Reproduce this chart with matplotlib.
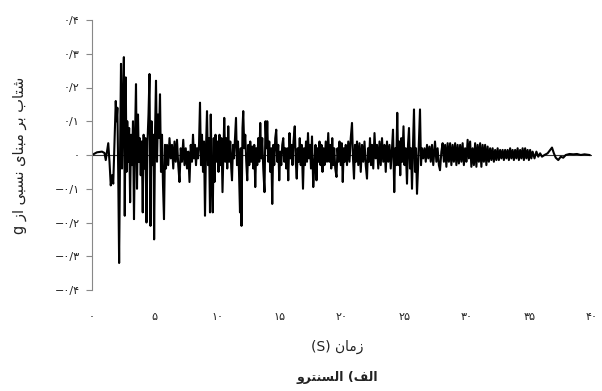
import matplotlib
matplotlib.use('Agg')
from matplotlib import pyplot as plt

# زمان و شتاب نقاط اوج، خوانده شده از نمودار
time_s = [
    0, 0.4, 0.8, 1.0, 1.1, 1.2, 1.3,
    1.4, 1.5, 1.6, 1.7, 1.8, 1.9, 1.97, 2.03, 2.1, 2.17, 2.25, 2.32, 2.4, 2.47,
    2.55, 2.62, 2.7, 2.76, 2.82, 2.9, 2.97, 3.05, 3.12, 3.2, 3.28, 3.36, 3.43,
    3.52, 3.6, 3.68, 3.75, 3.82, 3.9, 3.98, 4.06, 4.13, 4.2, 4.28, 4.36, 4.44,
    4.52, 4.6, 4.68, 4.76, 4.84, 4.92, 4.97, 5.05, 5.12, 5.2, 5.28, 5.36, 5.44,
    5.52, 5.6, 5.68, 5.76, 5.84, 5.92,
    6.0, 6.1, 6.2, 6.3, 6.4, 6.5, 6.6, 6.7, 6.8, 6.9, 7.0, 7.1, 7.2, 7.3, 7.4,
    7.5, 7.6, 7.7, 7.8, 7.9, 8.0, 8.08, 8.16, 8.24, 8.32, 8.4, 8.48,
    8.56, 8.64, 8.72, 8.8, 8.88, 8.96, 9.04, 9.12, 9.2, 9.28, 9.36, 9.44, 9.5,
    9.58, 9.66, 9.74, 9.8, 9.88, 9.96, 10.04, 10.12, 10.2, 10.28, 10.36, 10.44,
    10.52, 10.58, 10.66, 10.74, 10.82, 10.9, 10.98, 11.06, 11.14, 11.2, 11.28,
    11.36, 11.44, 11.52, 11.6, 11.68, 11.76, 11.84, 11.9, 11.96, 12.04, 12.1,
    12.18, 12.26,
    12.34, 12.42, 12.5, 12.58, 12.66, 12.74, 12.82, 12.9, 12.98, 13.06, 13.14,
    13.22, 13.3, 13.38, 13.46, 13.54, 13.62, 13.7, 13.8, 13.88, 13.96, 14.02,
    14.1, 14.18, 14.26, 14.34, 14.42, 14.5, 14.58, 14.66, 14.74, 14.82, 14.9,
    14.98, 15.06, 15.14, 15.22, 15.3, 15.38, 15.46, 15.54, 15.62, 15.7, 15.8,
    15.88, 15.96, 16.04, 16.12, 16.22, 16.3, 16.38, 16.46, 16.54, 16.62, 16.7,
    16.78, 16.88, 16.96, 17.04, 17.12, 17.2, 17.28, 17.36, 17.44, 17.52, 17.6,
    17.7, 17.8, 17.88, 17.96, 18.04, 18.12, 18.2, 18.28, 18.36, 18.44, 18.52,
    18.6, 18.7, 18.8, 18.9, 18.98, 19.06, 19.14, 19.22, 19.3, 19.38, 19.46,
    19.56, 19.64, 19.72, 19.8, 19.9, 19.98, 20.06, 20.14, 20.22, 20.3, 20.4,
    20.5, 20.6, 20.7, 20.8, 20.88, 20.96, 21.04, 21.12, 21.2, 21.3, 21.4, 21.5,
    21.6, 21.7, 21.8, 21.9, 22.0, 22.08, 22.16, 22.24, 22.32, 22.4, 22.5, 22.6,
    22.7, 22.8, 22.9, 23.0, 23.1, 23.2, 23.3, 23.4, 23.5, 23.6, 23.7, 23.8,
    23.9, 24.0, 24.08, 24.18, 24.26, 24.34, 24.42, 24.5, 24.58, 24.66, 24.74,
    24.82, 24.92, 25.0, 25.1, 25.2, 25.28, 25.36, 25.44, 25.52, 25.6, 25.68,
    25.76, 25.84, 25.92, 26.0, 26.08, 26.16, 26.24, 26.32, 26.4, 26.5,
    26.6, 26.7, 26.8, 26.9, 27.0, 27.1, 27.2, 27.3, 27.44, 27.55, 27.65, 27.75,
    27.84, 27.95, 28.05, 28.15, 28.25, 28.35, 28.45, 28.55, 28.65, 28.75, 28.85,
    28.95, 29.05, 29.15, 29.25, 29.35, 29.45, 29.55, 29.65, 29.75, 29.85, 29.95,
    30.05, 30.15, 30.25, 30.35, 30.45,
    30.55, 30.65, 30.75, 30.85, 30.95, 31.05, 31.15, 31.25, 31.35, 31.45, 31.55,
    31.65, 31.75, 31.85, 31.95, 32.05, 32.15, 32.25, 32.35, 32.45, 32.55, 32.65,
    32.75, 32.85, 32.95, 33.05, 33.15, 33.25, 33.35, 33.45, 33.55, 33.65, 33.75,
    33.85, 33.95, 34.05, 34.15, 34.25, 34.35, 34.45, 34.55, 34.65, 34.75, 34.85,
    34.95, 35.05, 35.15, 35.25, 35.4, 35.55, 35.7, 35.85, 36.0, 36.2, 36.45,
    36.65, 36.8, 36.95, 37.1, 37.3, 37.5, 37.7, 37.9, 38.2, 38.5, 38.8, 39.1,
    39.4, 39.8,
]

accel_g = [
    0, 0.008, 0.01, 0.006, -0.015, 0.01, 0.035,
    -0.02, -0.09, -0.06, -0.085, 0.04, 0.16, 0.10, 0.14, -0.06, -0.32, 0.02, 0.27, -0.04, 0.15,
    0.29, -0.18, 0.23, -0.05, 0.10, -0.02, 0.08, -0.14, 0.06, -0.03, 0.10, -0.19, 0.03,
    0.21, -0.10, 0.12, -0.02, 0.05, -0.06, 0.04, -0.17, 0.06, -0.04, 0.05, -0.20, 0.04,
    0.12, 0.24, -0.21, 0.10, -0.03, 0.06, -0.25, 0.08, 0.22, -0.02, 0.12, 0.05, 0.18,
    -0.05, 0.06, -0.09, -0.19, 0.03, -0.04,
    0.03, -0.03, 0.05, -0.01, 0.03, -0.04, 0.04, -0.02, 0.045, -0.03, -0.08, 0.02, -0.02, 0.045, -0.03,
    0.02, -0.04, 0.01, -0.08, 0.03, -0.02, 0.06, -0.01, 0.03, -0.03, 0.02, -0.01,
    0.03, 0.155, -0.03, 0.06, -0.05, 0.04, -0.18, 0.02, 0.13, -0.03, 0.05, -0.17, 0.12,
    -0.06, -0.17, 0.05, -0.08, 0.06, -0.02, 0.04, -0.05, 0.06, -0.03, 0.05, -0.11,
    0.02, 0.11, -0.02, 0.05, -0.04, 0.085, -0.02, 0.04, -0.04, -0.075, 0.03,
    -0.01, 0.05, 0.11, -0.03, 0.04, -0.05, -0.17, 0.02, -0.21, 0.08, 0.13,
    0.02, 0.06,
    -0.02, -0.075, 0.03, -0.03, 0.04, -0.02, 0.025, -0.04, 0.03, -0.095, 0.02,
    -0.03, 0.05, -0.02, 0.095, -0.01, 0.05, -0.04, -0.11, 0.10, 0.02, 0.10,
    -0.02, 0.04, -0.05, 0.02, -0.145, 0.03, -0.03, 0.05, 0.075, -0.02, 0.03,
    -0.075, 0.01, -0.03, 0.03, 0.05, -0.02, 0.02, -0.04, 0.02, -0.075, 0.065,
    -0.01, 0.03, -0.03, 0.04, 0.085, -0.02, -0.07, 0.02, -0.02, 0.05, -0.03,
    0.03, -0.10, 0.02, -0.03, 0.04, -0.02, 0.065, -0.01, 0.03, -0.04, 0.055,
    -0.095, -0.02, 0.03, -0.075, 0.02, -0.02, 0.04, -0.03, 0.03, -0.05, 0.02,
    -0.03, 0.04, -0.02, 0.065, -0.02, 0.03, -0.04, 0.05, -0.03, 0.02, -0.04,
    -0.065, 0.02, -0.02, 0.04, -0.03, 0.035, -0.08, 0.02, -0.02, 0.03, -0.03,
    0.04, -0.02, 0.05, 0.095, -0.01, -0.07, 0.03, -0.02, 0.04, -0.03, 0.035, -0.05,
    0.03, -0.02, 0.04, -0.03, -0.07, 0.02, -0.02, 0.05, -0.03, 0.03, -0.04, 0.065,
    -0.01, 0.03, -0.04, 0.04, -0.03, 0.05, -0.02, 0.03, -0.05, 0.04, -0.02, 0.03,
    -0.04, 0.02, 0.075, -0.11, 0.02, -0.03, 0.125, -0.03, 0.04, -0.06, 0.05,
    -0.02, 0.085, -0.03, 0.02, -0.085, 0.03, 0.08, -0.04, 0.02, -0.10, 0.03,
    0.135, -0.05, 0.02, -0.115, -0.04, 0.05, 0.135, -0.03, 0.02, -0.01,
    0.02, -0.02, 0.03, -0.01, 0.025, -0.02, 0.03, -0.03, 0.04, -0.02, 0.02, -0.03,
    -0.045, 0.01, 0.035, -0.02, 0.03, -0.035, 0.035, -0.02, 0.035, -0.03, 0.03,
    -0.02, 0.035, -0.03, 0.03, -0.025, 0.03, -0.02, 0.035, -0.03, 0.02, -0.02,
    0.045, -0.01, 0.04, -0.035, 0.02,
    -0.03, 0.035, -0.035, 0.03, -0.02, 0.035, -0.035, 0.03, -0.02, 0.03, -0.03,
    0.025, -0.02, 0.02, -0.015, 0.02, -0.02, 0.015, -0.015, 0.02, -0.015, 0.015,
    -0.01, 0.015, -0.015, 0.015, -0.01, 0.015, -0.015, 0.02, -0.01, 0.015, -0.015,
    0.015, -0.01, 0.02, -0.015, 0.015, -0.01, 0.02, -0.015, 0.02, -0.01, 0.015,
    -0.015, 0.015, -0.01, 0.01, -0.01, 0.01, -0.005, 0.005, -0.005, 0.0, 0.005,
    0.015, 0.022, 0.005, -0.008, -0.015, -0.005, -0.008, 0.0, 0.003, 0.002, 0.003, 0.0,
    0.002, 0.0,
]

x_ticks = [0, 5, 10, 15, 20, 25, 30, 35, 40]
y_ticks = [-0.4, -0.3, -0.2, -0.1, 0, 0.1, 0.2, 0.3, 0.4]

y_label = 'شتاب بر مبنای نسبی از g'
x_label = 'زمان (S)'
caption = 'الف) السنترو'

# شکل های حروف: (تنها، پایانی، آغازی، میانی)
FORMS = {
    'ا': ('\uFE8D', '\uFE8E', None, None),
    'ب': ('\uFE8F', '\uFE90', '\uFE91', '\uFE92'),
    'ت': ('\uFE95', '\uFE96', '\uFE97', '\uFE98'),
    'س': ('\uFEB1', '\uFEB2', '\uFEB3', '\uFEB4'),
    'ش': ('\uFEB5', '\uFEB6', '\uFEB7', '\uFEB8'),
    'ر': ('\uFEAD', '\uFEAE', None, None),
    'ز': ('\uFEAF', '\uFEB0', None, None),
    'ف': ('\uFED1', '\uFED2', '\uFED3', '\uFED4'),
    'ل': ('\uFEDD', '\uFEDE', '\uFEDF', '\uFEE0'),
    'م': ('\uFEE1', '\uFEE2', '\uFEE3', '\uFEE4'),
    'ن': ('\uFEE5', '\uFEE6', '\uFEE7', '\uFEE8'),
    'و': ('\uFEED', '\uFEEE', None, None),
    'ی': ('\uFEEF', '\uFEF0', '\uFEF3', '\uFEF4'),
}
MIRROR = {'(': ')', ')': '('}
FA_DIGITS = '۰۱۲۳۴۵۶۷۸۹'


def fa_text(text):
    out = []
    for i, ch in enumerate(text):
        forms = FORMS.get(ch)
        if forms is None:
            out.append(MIRROR.get(ch, ch))
            continue
        prev = text[i - 1] if i > 0 else ''
        nxt = text[i + 1] if i + 1 < len(text) else ''
        join_prev = prev in FORMS and FORMS[prev][2] is not None
        join_next = forms[2] is not None and nxt in FORMS
        if join_prev and join_next:
            out.append(forms[3])
        elif join_prev:
            out.append(forms[1])
        elif join_next:
            out.append(forms[2])
        else:
            out.append(forms[0])
    return ''.join(reversed(out))


def fa_num(v):
    if v == 0:
        return '۰'
    s = ('%g' % abs(v)).replace('.', '/')
    if s.startswith('/'):
        s = '0' + s
    s = ''.join(FA_DIGITS[int(c)] if c.isdigit() else c for c in s)
    return ('−' if v < 0 else '') + s


def main():
    plt.rcParams['font.family'] = ['DejaVu Sans']
    fig = plt.figure(figsize=(6.02, 3.91), dpi=100)
    ax = fig.add_axes([92 / 602, 1 - 290 / 391, 500 / 602, 270 / 391])

    ax.axhline(0, color='#333333', lw=0.8, zorder=1)
    ax.plot(time_s, accel_g, color='black', lw=1.5, zorder=2)

    ax.set_xlim(0, 40)
    ax.set_ylim(-0.4, 0.4)
    for side in ['top', 'right', 'bottom']:
        ax.spines[side].set_visible(False)
    ax.spines['left'].set_color('#888888')

    ax.set_xticks(x_ticks)
    ax.set_xticklabels([fa_num(v) for v in x_ticks], fontsize=8)
    ax.tick_params(axis='x', length=0, pad=16, colors='#222222')
    ax.set_yticks(y_ticks)
    ax.set_yticklabels([fa_num(v) for v in y_ticks], fontsize=8)
    ax.tick_params(axis='y', length=4, pad=5, colors='#222222')
    ax.tick_params(axis='y', color='#888888')

    fig.text(20 / 602, 1 - 155 / 391, fa_text(y_label), rotation=90,
             ha='center', va='center', fontsize=10.5, color='#222222')
    fig.text(337 / 602, 1 - 347 / 391, fa_text(x_label),
             ha='center', va='center', fontsize=10, color='#222222')
    fig.text(337 / 602, 1 - 377 / 391, fa_text(caption),
             ha='center', va='center', fontsize=9, fontweight='bold', color='#222222')

    fig.savefig('out.png', dpi=100)


if __name__ == '__main__':
    main()
